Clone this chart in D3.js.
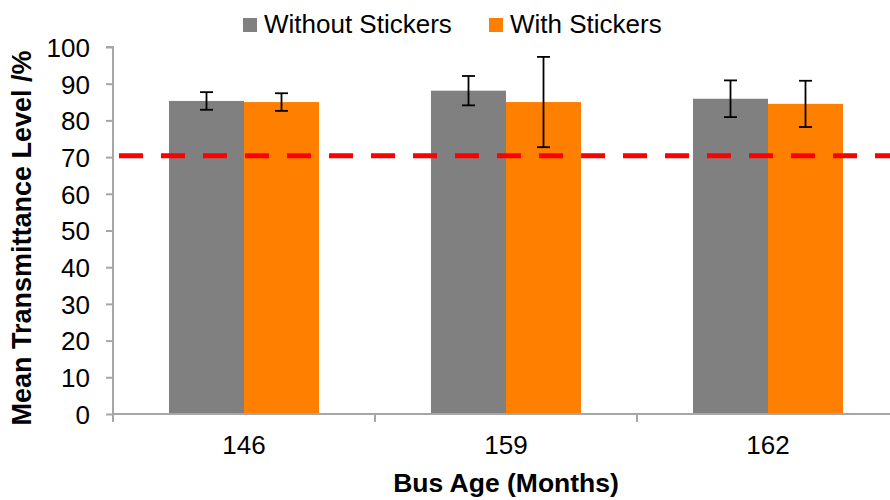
<!DOCTYPE html>
<html><head><meta charset="utf-8">
<script src="https://cdn.jsdelivr.net/npm/d3@7"></script>
<style>body{margin:0;background:#fff}svg{display:block;font-family:"Liberation Sans",Arial,sans-serif}</style>
</head><body><svg id="c" width="890" height="500"></svg>
<script>
const categories = ["146", "159", "162"];
const seriesNames = ["Without Stickers", "With Stickers"];
const withoutValues = [85.3, 88.1, 85.9];
const withoutErrors = [2.4, 4.0, 5.0];
const withValues = [85.0, 85.0, 84.5];
const withErrors = [2.4, 12.3, 6.3];
const yTicks = [0, 10, 20, 30, 40, 50, 60, 70, 80, 90, 100];
const threshold = 70.4;
const colors = ["#808080", "#FF8000"];

const svg = d3.select("#c");
const m = {left: 113, top: 47, right: 899, bottom: 414};
const x = d3.scaleBand().domain(categories).range([m.left, m.right]).paddingInner(0).paddingOuter(0);
const inner = d3.scaleBand().domain(seriesNames).range([56, x.bandwidth() - 56]);
const y = d3.scaleLinear().domain([0, 100]).range([m.bottom, m.top]);

const data = categories.map((c, i) => ({
  cat: c,
  vals: [
    {s: seriesNames[0], v: withoutValues[i], e: withoutErrors[i], col: colors[0]},
    {s: seriesNames[1], v: withValues[i], e: withErrors[i], col: colors[1]}
  ]
}));

const axisCol = "#a6a6a6";
const g = svg.append("g");
data.forEach(d => {
  d.vals.forEach(b => {
    g.append("rect")
      .attr("x", x(d.cat) + inner(b.s))
      .attr("y", y(b.v))
      .attr("width", inner.bandwidth())
      .attr("height", y(0) - y(b.v))
      .attr("fill", b.col);
  });
});

svg.append("line")
  .attr("x1", m.left + 6).attr("x2", 890)
  .attr("y1", y(threshold)).attr("y2", y(threshold))
  .attr("stroke", "#FF0000").attr("stroke-width", 5)
  .attr("stroke-dasharray", "24,18");

data.forEach(d => {
  d.vals.forEach(b => {
    const cx = x(d.cat) + inner(b.s) + inner.bandwidth() / 2;
    const eg = svg.append("g").attr("stroke", "#000").attr("stroke-width", 1.8);
    eg.append("line").attr("x1", cx).attr("x2", cx).attr("y1", y(b.v + b.e)).attr("y2", y(b.v - b.e));
    eg.append("line").attr("x1", cx - 6.5).attr("x2", cx + 6.5).attr("y1", y(b.v + b.e)).attr("y2", y(b.v + b.e));
    eg.append("line").attr("x1", cx - 6.5).attr("x2", cx + 6.5).attr("y1", y(b.v - b.e)).attr("y2", y(b.v - b.e));
  });
});

const yAxis = d3.axisLeft(y).tickValues(yTicks).tickSize(7).tickPadding(16).tickFormat(d3.format("d"));
const ya = svg.append("g").attr("transform", `translate(${m.left},0)`).call(yAxis);
ya.select(".domain").attr("stroke", axisCol).attr("stroke-width", 2).attr("d", `M-7,${m.top}H0V${m.bottom}`);
ya.selectAll(".tick line").attr("stroke", axisCol).attr("stroke-width", 2);
ya.selectAll(".tick text").attr("fill", "#000").style("font-size", "26px").attr("dy", "0.36em");

const xAxis = d3.axisBottom(x).tickSize(0).tickPadding(22);
const xa = svg.append("g").attr("transform", `translate(0,${m.bottom})`).call(xAxis);
xa.select(".domain").attr("stroke", axisCol).attr("stroke-width", 2).attr("d", `M${m.left},0H${m.right}`);
xa.selectAll(".tick text").attr("fill", "#000").style("font-size", "26px").attr("dy", "0.71em");
const bounds = categories.map(c => x(c)).concat([x(categories[categories.length - 1]) + x.bandwidth()]);
xa.selectAll("line.bt").data(bounds).enter().append("line").attr("class", "bt")
  .attr("x1", d => d).attr("x2", d => d).attr("y1", 0).attr("y2", 8)
  .attr("stroke", axisCol).attr("stroke-width", 2);

svg.append("text").attr("transform", `translate(31,238) rotate(-90)`)
  .attr("text-anchor", "middle").style("font-size", "27px").style("font-weight", "bold")
  .text("Mean Transmittance Level /%");
svg.append("text").attr("x", 506).attr("y", 492)
  .attr("text-anchor", "middle").style("font-size", "26.5px").style("font-weight", "bold")
  .text("Bus Age (Months)");

const legX = [243, 489];
seriesNames.forEach((s, i) => {
  svg.append("rect").attr("x", legX[i]).attr("y", 18).attr("width", 14).attr("height", 14).attr("fill", colors[i]);
  svg.append("text").attr("x", legX[i] + 21).attr("y", 33).style("font-size", "26px").attr("fill", "#000").text(s);
});
</script></body></html>
